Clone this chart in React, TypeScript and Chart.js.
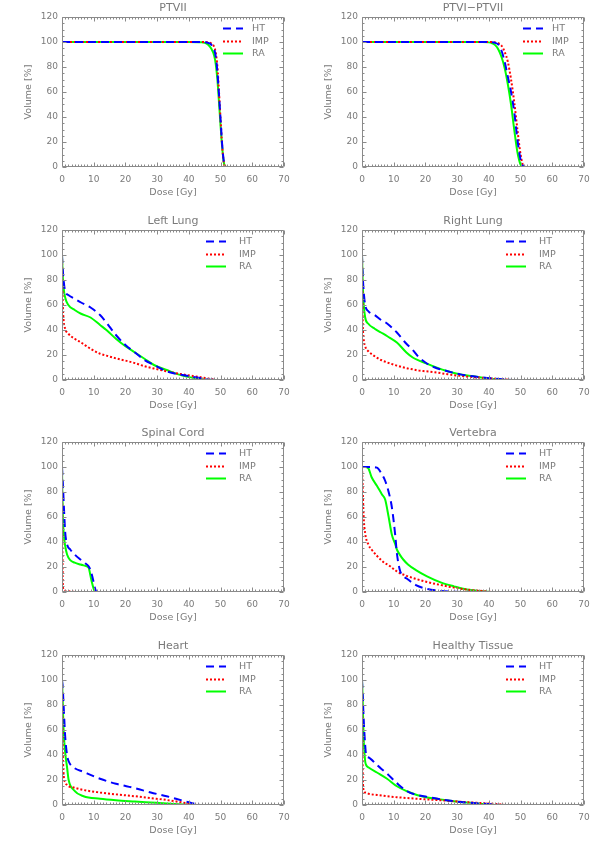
import React, { useEffect, useRef } from "react";
import { Chart, registerables } from "chart.js";

Chart.register(...registerables);

// ---------- DATA ----------
const SERIES_LABELS = ["HT", "IMP", "RA"];

const ptv2Dose = [0, 40, 44, 45, 46, 47, 48, 48.5, 49, 49.5, 50, 50.5, 51, 51.5, 52];
const ptv2HT = [100, 100, 100, 99.8, 99.3, 98, 94, 88, 76, 58, 38, 18, 5, 0.5, 0];
const ptv2IMP = [100, 100, 100, 100, 99.7, 99, 96, 91, 80, 60, 38, 17, 4, 0.3, 0];
const ptv2RA = [100, 100, 99.8, 99.3, 98, 95, 89, 82, 70, 52, 33, 16, 4, 0.3, 0];

const ptv12Dose = [0, 38, 40, 41, 42, 43, 44, 45, 46, 47, 48, 49, 50, 51, 52];
const ptv12HT = [100, 100, 100, 99.8, 99.3, 98, 93, 84, 72, 60, 44, 22, 6, 0.3, 0];
const ptv12IMP = [100, 100, 100, 100, 99.7, 99, 97, 92, 84, 70, 52, 30, 10, 0.5, 0];
const ptv12RA = [100, 100, 99.7, 99, 97.5, 94, 88, 79, 66, 50, 30, 12, 2, 0, null];

const llDose = [0, 0.2, 0.5, 1, 2, 4, 6, 9, 12, 14, 17, 20, 23, 26, 29, 33, 38, 43, 46, 48];
const llHT = [100, 90, 80, 71, 68, 65, 62, 58, 52, 46, 36, 28, 22, 16, 12, 7, 4, 1.8, 0.5, 0];
const llIMP = [100, 65, 48, 41, 37, 33, 30, 25, 21, 19.5, 17.3, 15.5, 13.5, 11, 9.2, 7, 4.5, 2.5, 1.2, 0.4];
const llRA = [100, 85, 74, 66, 60, 56, 53, 50, 44, 40, 33, 27, 22, 17, 12, 8, 3.5, 1, 0.1, 0];

const rlDose = [0, 0.2, 0.5, 1, 2, 4, 6, 8, 11, 14, 16, 18, 20, 23, 27, 31, 35, 40, 44, 47];
const rlHT = [100, 85, 72, 60, 55, 52, 48, 45, 38, 29, 24, 18, 14, 10, 7, 4.5, 3, 1.5, 0.6, 0];
const rlIMP = [100, 50, 34, 27, 23, 19, 16, 14, 11.5, 9.5, 8.5, 7.5, 7, 6.2, 4.6, 3.3, 2.3, 1.3, 0.6, 0];
const rlRA = [100, 80, 62, 50, 45, 41, 38, 35, 30, 22, 18, 15.5, 13.5, 10.5, 7, 4.5, 3, 1.2, 0.3, 0];

const scDose = [0, 0.1, 0.3, 0.6, 1, 1.6, 2.6, 4, 5.8, 7.3, 8.4, 8.9, 9.4, 10, 10.4, 10.8];
const scHT = [100, 95, 85, 68, 48, 38, 34, 30, 26, 23, 20.5, 18, 14, 7.5, 3, 0];
const scIMP = [100, 45, 4, 1.5, 1, 0.8, 0.5, 0, null, null, null, null, null, null, null, null];
const scRA = [100, 80, 58, 45, 37, 30, 25.5, 23.5, 22, 21, 19.5, 14, 8, 2.5, 0, null];

const vtDose = [0, 0.2, 0.5, 1, 2, 3, 4.7, 6.3, 7.3, 8.4, 9.4, 10.5, 11, 12, 13, 14.5, 17, 20.5, 25, 29, 33, 37, 41];
const vtHT = [100, 100, 100, 100, 100, 100, 99.5, 94, 89, 80, 68, 45, 31, 17, 13, 10, 5.5, 2.5, 0.8, 0.2, 0, null, null];
const vtIMP = [100, 85, 61, 47, 38, 34, 29, 25, 23, 21.5, 19.5, 17.5, 16.5, 15, 14, 12.5, 10.5, 8, 5.5, 3.5, 2, 1, 0];
const vtRA = [100, 100, 100, 100, 99, 92, 85, 78, 74, 60, 46, 38, 34, 29.5, 26, 22, 17.5, 12.5, 7.5, 4.5, 2, 0.8, 0];

const hrDose = [0, 0.2, 0.5, 1, 1.6, 2.1, 3.7, 6.8, 12, 17, 23, 28, 33, 38, 41, 42.5, 43.5];
const hrHT = [100, 95, 80, 55, 40, 35, 30, 26.5, 21, 17, 13.5, 10, 7, 3.5, 1.5, 0.5, 0];
const hrIMP = [100, 50, 25, 18, 16, 15, 14, 12, 10, 8.5, 7, 5.5, 4, 2, 0.5, 0, null];
const hrRA = [100, 85, 60, 42, 30, 20, 12, 7, 5, 3.8, 2.8, 2, 1.2, 0.5, 0, null, null];

const htDose = [0, 0.2, 0.5, 1, 1.3, 2.1, 4.7, 7.9, 11, 14.2, 17.3, 20.5, 24.7, 29, 33, 38, 42, 43, 45];
const htHT = [100, 90, 70, 48, 40, 38, 32, 25, 17.5, 11, 8, 6.5, 4.5, 3, 2, 1, 0.3, 0, null];
const htIMP = [100, 30, 12, 10, 9.8, 9, 8, 7, 6.2, 5.6, 5, 4.5, 3.8, 3, 2.3, 1.5, 0.8, 0.6, 0];
const htRA = [100, 85, 55, 35, 32, 30, 26, 21, 15, 11, 8, 6, 4.5, 3, 2, 0.8, 0, null, null];

const X_TICK_MIN = 0;
const X_TICK_MAX = 70;
const X_TICK_STEP = 10;
const Y_TICK_MIN = 0;
const Y_TICK_MAX = 120;
const Y_TICK_STEP = 20;

// ---------- STYLE ----------
const SERIES_COLORS = ["#0000ff", "#ff0000", "#00ff00"];
const SERIES_DASH = [[8, 5], [2, 2], []];
const TEXT_COLOR = "#7a7a7a";
const FRAME_COLOR = "#8a8a8a";
const FONT = "'DejaVu Sans', sans-serif";

type PanelDef = {
  title: string;
  dose: number[];
  series: (number | null)[][];
  legendLineX: number;
  legendTextX: number;
};

const PANELS: PanelDef[] = [
  { title: "PTVII", dose: ptv2Dose, series: [ptv2HT, ptv2IMP, ptv2RA], legendLineX: 223, legendTextX: 252 },
  { title: "PTVI\u2212PTVII", dose: ptv12Dose, series: [ptv12HT, ptv12IMP, ptv12RA], legendLineX: 223, legendTextX: 252 },
  { title: "Left Lung", dose: llDose, series: [llHT, llIMP, llRA], legendLineX: 206, legendTextX: 239 },
  { title: "Right Lung", dose: rlDose, series: [rlHT, rlIMP, rlRA], legendLineX: 206, legendTextX: 239 },
  { title: "Spinal Cord", dose: scDose, series: [scHT, scIMP, scRA], legendLineX: 206, legendTextX: 239 },
  { title: "Vertebra", dose: vtDose, series: [vtHT, vtIMP, vtRA], legendLineX: 206, legendTextX: 239 },
  { title: "Heart", dose: hrDose, series: [hrHT, hrIMP, hrRA], legendLineX: 206, legendTextX: 239 },
  { title: "Healthy Tissue", dose: htDose, series: [htHT, htIMP, htRA], legendLineX: 206, legendTextX: 239 },
];

const CANVAS_W = 300;
const CANVAS_H = 213;
const ROW_PITCH = 212.67;

const frameLegendPlugin = {
  id: "frameLegend",
  afterDatasetsDraw(chart: any, _args: any, opts: any) {
    const { ctx, chartArea: a } = chart;
    const xs = chart.scales.x;
    const ys = chart.scales.y;
    ctx.save();
    ctx.strokeStyle = FRAME_COLOR;
    ctx.lineWidth = 1;
    ctx.setLineDash([]);
    const L = Math.round(a.left) + 0.5;
    const R = Math.round(a.right) - 0.5;
    const T = Math.round(a.top) + 0.5;
    const B = Math.round(a.bottom) - 0.5;
    ctx.beginPath();
    ctx.rect(L, T, R - L, B - T);
    for (let v = X_TICK_MIN; v <= X_TICK_MAX; v += 1) {
      const px = Math.round(xs.getPixelForValue(v)) + 0.5;
      const len = v % X_TICK_STEP === 0 ? 4 : 2;
      ctx.moveTo(px, B);
      ctx.lineTo(px, B - len);
      ctx.moveTo(px, T);
      ctx.lineTo(px, T + len);
    }
    for (let v = Y_TICK_MIN; v <= Y_TICK_MAX; v += 5) {
      const py = Math.round(ys.getPixelForValue(v)) + 0.5;
      const len = v % Y_TICK_STEP === 0 ? 4 : 2;
      ctx.moveTo(L, py);
      ctx.lineTo(L + len, py);
      ctx.moveTo(R, py);
      ctx.lineTo(R - len, py);
    }
    ctx.stroke();

    // title
    ctx.fillStyle = TEXT_COLOR;
    ctx.font = `11px ${FONT}`;
    ctx.textAlign = "center";
    ctx.textBaseline = "middle";
    ctx.fillText(opts.title, (a.left + a.right) / 2, a.top - 8.5);

    // legend
    ctx.font = `9.5px ${FONT}`;
    ctx.textAlign = "left";
    chart.data.datasets.forEach((ds: any, i: number) => {
      const y = Math.round(a.top + 11 + i * 12.5) + 0.5;
      ctx.strokeStyle = ds.borderColor;
      ctx.lineWidth = 2;
      ctx.setLineDash(ds.borderDash || []);
      ctx.beginPath();
      ctx.moveTo(opts.legendLineX, y);
      ctx.lineTo(opts.legendLineX + 20, y);
      ctx.stroke();
      ctx.fillText(ds.label, opts.legendTextX, y);
    });
    ctx.restore();
  },
};

function Panel({ def, left, top }: { def: PanelDef; left: number; top: number }) {
  const ref = useRef<HTMLCanvasElement | null>(null);
  useEffect(() => {
    if (!ref.current) return;
    const datasets = def.series.map((vals, i) => ({
      label: SERIES_LABELS[i],
      data: def.dose.map((d, j) => ({ x: d, y: vals[j] })),
      borderColor: SERIES_COLORS[i],
      backgroundColor: SERIES_COLORS[i],
      borderDash: SERIES_DASH[i],
      borderWidth: 2,
      pointRadius: 0,
      fill: false,
      spanGaps: false,
      cubicInterpolationMode: "monotone" as const,
    }));
    const tickFont = { family: FONT, size: 9 };
    const titleFont = { family: FONT, size: 9.5 };
    const chart = new Chart(ref.current, {
      type: "line",
      data: { datasets },
      options: {
        responsive: false,
        animation: false,
        events: [],
        layout: { padding: { left: 0, top: 17, right: 16, bottom: 0 } },
        plugins: {
          legend: { display: false },
          tooltip: { enabled: false },
          title: { display: false },
          frameLegend: {
            title: def.title,
            legendLineX: def.legendLineX,
            legendTextX: def.legendTextX,
          },
        } as any,
        scales: {
          x: {
            type: "linear",
            min: X_TICK_MIN,
            max: X_TICK_MAX,
            border: { display: false },
            grid: { display: false, drawTicks: false },
            ticks: {
              stepSize: X_TICK_STEP,
              padding: 7,
              color: TEXT_COLOR,
              font: tickFont,
              maxRotation: 0,
              autoSkip: false,
            },
            title: {
              display: true,
              text: "Dose [Gy]",
              color: TEXT_COLOR,
              font: titleFont,
              padding: { top: 0, bottom: 15 },
            },
            afterFit: (s: any) => {
              s.height = 46;
            },
          },
          y: {
            type: "linear",
            min: Y_TICK_MIN,
            max: Y_TICK_MAX,
            border: { display: false },
            grid: { display: false, drawTicks: false },
            ticks: {
              stepSize: Y_TICK_STEP,
              padding: 4,
              color: TEXT_COLOR,
              font: tickFont,
              autoSkip: false,
            },
            title: {
              display: true,
              text: "Volume [%]",
              color: TEXT_COLOR,
              font: titleFont,
              padding: { top: 23, bottom: 0 },
            },
            afterFit: (s: any) => {
              s.width = 62;
            },
          },
        },
      },
      plugins: [frameLegendPlugin],
    });
    return () => chart.destroy();
  }, [def]);
  return (
    <canvas
      ref={ref}
      width={CANVAS_W}
      height={CANVAS_H}
      style={{ position: "absolute", left, top, width: CANVAS_W, height: CANVAS_H }}
    />
  );
}

export default function App() {
  return (
    <div style={{ position: "absolute", left: 0, top: 0, width: 600, height: 850, background: "#fff", overflow: "hidden" }}>
      {PANELS.map((p, i) => (
        <Panel key={i} def={p} left={(i % 2) * CANVAS_W} top={Math.round(Math.floor(i / 2) * ROW_PITCH)} />
      ))}
    </div>
  );
}
